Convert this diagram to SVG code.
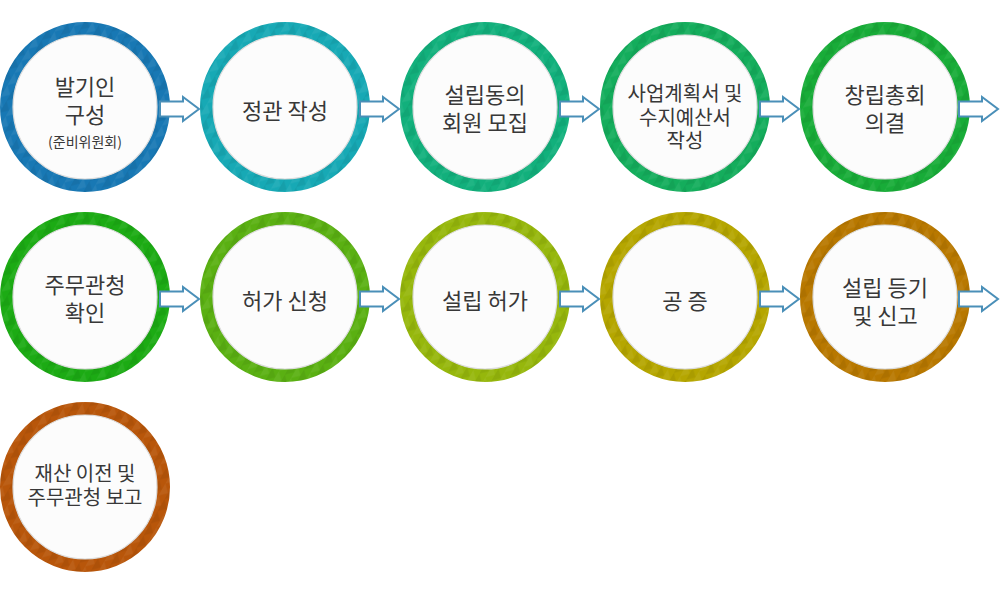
<svg xmlns="http://www.w3.org/2000/svg" width="1000" height="593" viewBox="0 0 1000 593">
<defs>
<pattern id="tri" width="14" height="14" patternUnits="userSpaceOnUse" patternTransform="rotate(30)">
<path d="M0 0 L7 7 L0 14 Z" fill="#000" fill-opacity="0.06"/>
<path d="M7 0 L14 7 L7 14 Z" fill="#fff" fill-opacity="0.06"/>
</pattern>
<polygon id="arr" points="0,-7.5 23,-7.5 23,-12 39,0 23,12 23,7.5 0,7.5"/>
</defs>
<style>
.bg{fill:#fff}
.ring{fill:#fcfcfc;stroke-width:13}
.tex{fill:none;stroke:url(#tri);stroke-width:13}
.inner{fill:none;stroke:#dcdcdc;stroke-width:1.2}
.t{font-family:"Noto Sans CJK KR","Noto Sans",sans-serif;fill:#383838;text-anchor:middle;font-weight:400}
.f22{font-size:22px}
.f20{font-size:20px}
.f14{font-size:14px}
.arrow{fill:#fff;stroke:#4a8fb8;stroke-width:2;stroke-linejoin:miter}
</style>
<rect class="bg" width="1000" height="593"/>

<g id="n1">
<circle class="ring" cx="85" cy="107" r="78.5" stroke="#1878b4"/>
<circle class="tex" cx="85" cy="107" r="78.5"/>
<circle class="inner" cx="85" cy="107" r="72"/>
<text class="t f22" x="85" y="95">발기인</text>
<text class="t f22" x="85" y="123">구성</text>
<text class="t f14" x="85" y="147">(준비위원회)</text>
</g>
<g id="n2">
<circle class="ring" cx="285" cy="107" r="78.5" stroke="#17a9b5"/>
<circle class="tex" cx="285" cy="107" r="78.5"/>
<circle class="inner" cx="285" cy="107" r="72"/>
<text class="t f22" x="285" y="119">정관 작성</text>
</g>
<g id="n3">
<circle class="ring" cx="485" cy="107" r="78.5" stroke="#12b07c"/>
<circle class="tex" cx="485" cy="107" r="78.5"/>
<circle class="inner" cx="485" cy="107" r="72"/>
<text class="t f22" x="485" y="103">설립동의</text>
<text class="t f22" x="485" y="131">회원 모집</text>
</g>
<g id="n4">
<circle class="ring" cx="685" cy="107" r="78.5" stroke="#14ad5c"/>
<circle class="tex" cx="685" cy="107" r="78.5"/>
<circle class="inner" cx="685" cy="107" r="72"/>
<text class="t f20" x="685" y="101">사업계획서 및</text>
<text class="t f20" x="685" y="124.5">수지예산서</text>
<text class="t f20" x="685" y="148">작성</text>
</g>
<g id="n5">
<circle class="ring" cx="885" cy="107" r="78.5" stroke="#18ac38"/>
<circle class="tex" cx="885" cy="107" r="78.5"/>
<circle class="inner" cx="885" cy="107" r="72"/>
<text class="t f22" x="885" y="103">창립총회</text>
<text class="t f22" x="885" y="131">의결</text>
</g>

<g id="n6">
<circle class="ring" cx="85" cy="297" r="78.5" stroke="#1cab14"/>
<circle class="tex" cx="85" cy="297" r="78.5"/>
<circle class="inner" cx="85" cy="297" r="72"/>
<text class="t f22" x="85" y="293">주무관청</text>
<text class="t f22" x="85" y="321">확인</text>
</g>
<g id="n7">
<circle class="ring" cx="285" cy="297" r="78.5" stroke="#5ab012"/>
<circle class="tex" cx="285" cy="297" r="78.5"/>
<circle class="inner" cx="285" cy="297" r="72"/>
<text class="t f22" x="285" y="309">허가 신청</text>
</g>
<g id="n8">
<circle class="ring" cx="485" cy="297" r="78.5" stroke="#96b70c"/>
<circle class="tex" cx="485" cy="297" r="78.5"/>
<circle class="inner" cx="485" cy="297" r="72"/>
<text class="t f22" x="485" y="309">설립 허가</text>
</g>
<g id="n9">
<circle class="ring" cx="685" cy="297" r="78.5" stroke="#b5a600"/>
<circle class="tex" cx="685" cy="297" r="78.5"/>
<circle class="inner" cx="685" cy="297" r="72"/>
<text class="t f22" x="685" y="309">공 증</text>
</g>
<g id="n10">
<circle class="ring" cx="885" cy="297" r="78.5" stroke="#b87800"/>
<circle class="tex" cx="885" cy="297" r="78.5"/>
<circle class="inner" cx="885" cy="297" r="72"/>
<text class="t f22" x="885" y="296">설립 등기</text>
<text class="t f22" x="885" y="324">및 신고</text>
</g>

<g id="n11">
<circle class="ring" cx="85" cy="487" r="78.5" stroke="#b8560a"/>
<circle class="tex" cx="85" cy="487" r="78.5"/>
<circle class="inner" cx="85" cy="487" r="72"/>
<text class="t f20" x="85" y="481">재산 이전 및</text>
<text class="t f20" x="85" y="505">주무관청 보고</text>
</g>

<g id="connectors">
<use href="#arr" class="arrow" x="160" y="109"/>
<use href="#arr" class="arrow" x="360" y="109"/>
<use href="#arr" class="arrow" x="560" y="109"/>
<use href="#arr" class="arrow" x="760" y="109"/>
<use href="#arr" class="arrow" x="959" y="109"/>
<use href="#arr" class="arrow" x="160" y="299"/>
<use href="#arr" class="arrow" x="360" y="299"/>
<use href="#arr" class="arrow" x="560" y="299"/>
<use href="#arr" class="arrow" x="760" y="299"/>
<use href="#arr" class="arrow" x="959" y="299"/>
</g>
</svg>
